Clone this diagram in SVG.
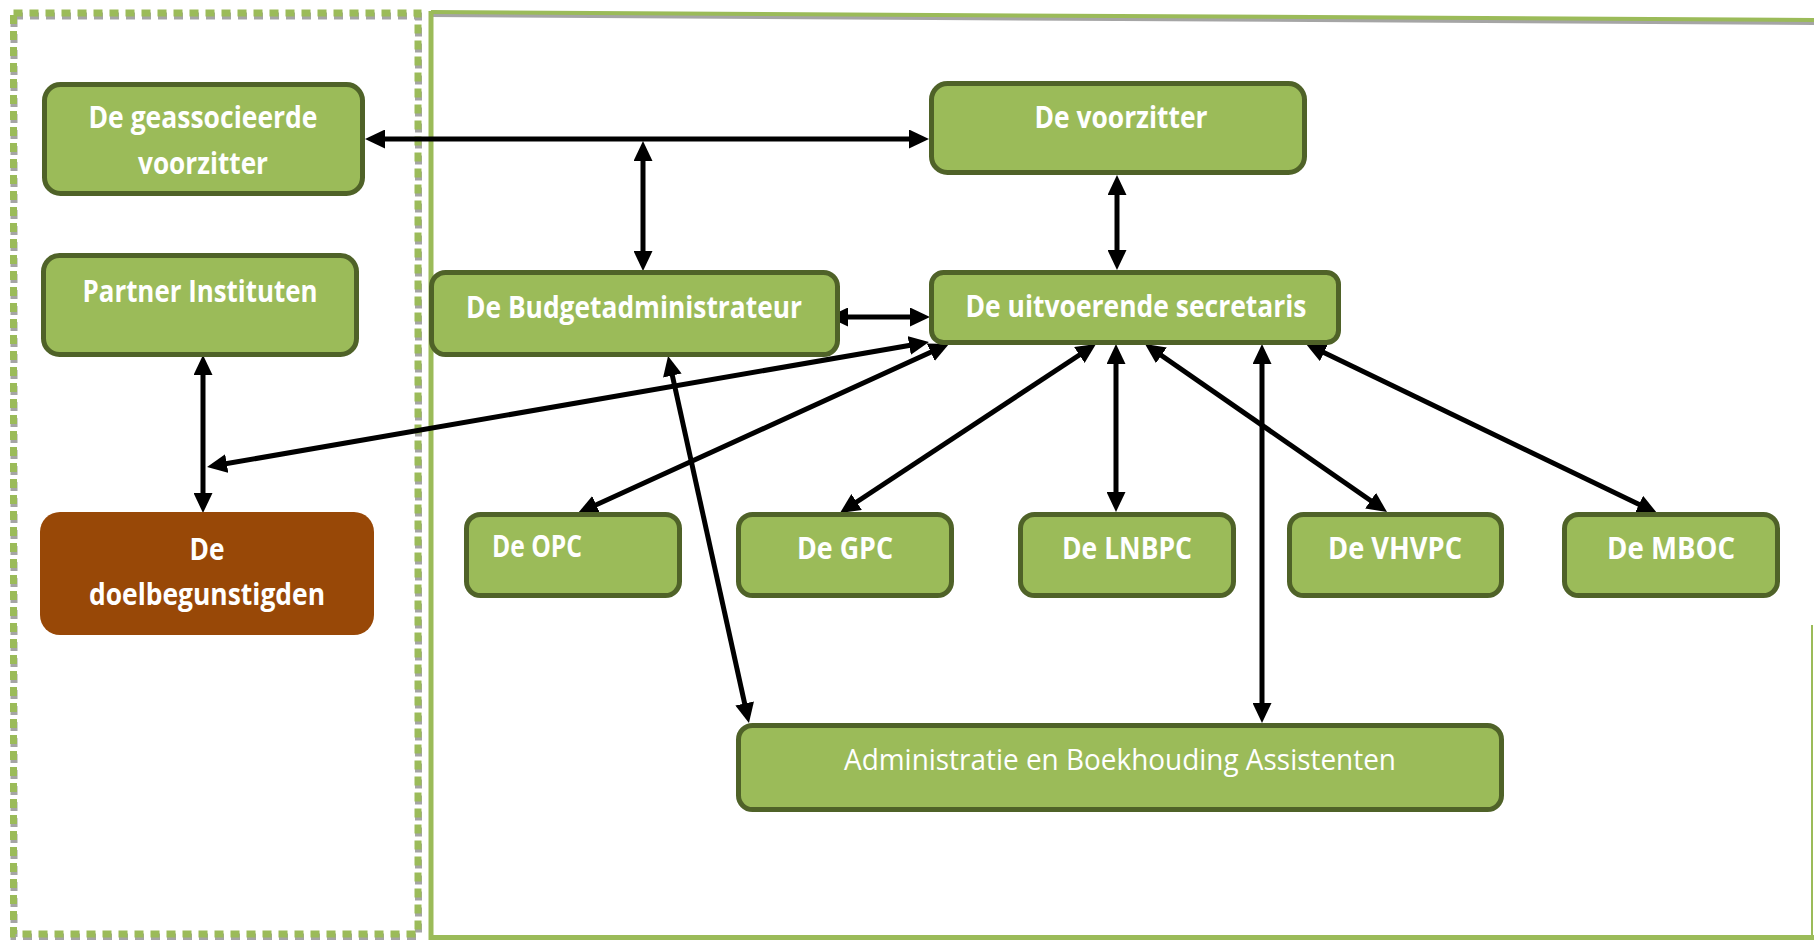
<svg xmlns="http://www.w3.org/2000/svg" width="1814" height="940" viewBox="0 0 1814 940">
<style>
.box{fill:#9bbb59;stroke:#4f6228;stroke-width:5}
.t{font-family:"Open Sans",Lato,"Liberation Sans",sans-serif;font-weight:bold;font-size:30px;fill:#ffffff;text-anchor:middle;font-variant-ligatures:none}
.tn{font-weight:normal}
.c{fill:none;stroke:#000;stroke-width:5}
</style>
<defs>
<marker id="ah" viewBox="0 0 20 19" refX="10" refY="9.5" markerWidth="20" markerHeight="19" markerUnits="userSpaceOnUse" orient="auto-start-reverse">
<path d="M0,0 L20,9.5 L0,19 Z" fill="#000"/>
</marker>
</defs>
<rect width="1814" height="940" fill="#ffffff"/>
<g id="frame-left">
<rect x="14" y="16" width="404.5" height="921" fill="none" stroke="#a5a5a5" stroke-width="7" stroke-dasharray="9 7"/>
<rect x="13.5" y="13" width="404.5" height="921" fill="none" stroke="#9bbb59" stroke-width="7" stroke-dasharray="9 7"/>
</g>
<g id="frame-right">
<line x1="431" y1="15" x2="1814" y2="23" stroke="#a5a5a5" stroke-width="4"/>
<line x1="431" y1="12" x2="1814" y2="20" stroke="#9bbb59" stroke-width="4"/>
<line x1="431" y1="11" x2="431" y2="940" stroke="#9bbb59" stroke-width="5"/>
<line x1="429" y1="937.5" x2="1814" y2="937.5" stroke="#9bbb59" stroke-width="5"/>
<line x1="1812" y1="625" x2="1812" y2="937" stroke="#9bbb59" stroke-width="2"/>
</g>
<g id="connectors">
<line class="c" x1="375" y1="139" x2="919" y2="139" marker-start="url(#ah)" marker-end="url(#ah)"/>
<line class="c" x1="643" y1="151" x2="643" y2="261" marker-start="url(#ah)" marker-end="url(#ah)"/>
<line class="c" x1="1117" y1="185" x2="1117" y2="260" marker-start="url(#ah)" marker-end="url(#ah)"/>
<line class="c" x1="838" y1="317" x2="920" y2="317" marker-start="url(#ah)" marker-end="url(#ah)"/>
<line class="c" x1="919.1" y1="343.7" x2="216.9" y2="465.3" marker-start="url(#ah)" marker-end="url(#ah)"/>
<line class="c" x1="203" y1="365" x2="203" y2="503" marker-start="url(#ah)" marker-end="url(#ah)"/>
<line class="c" x1="939.9" y1="348.1" x2="587.1" y2="508.9" marker-start="url(#ah)" marker-end="url(#ah)"/>
<line class="c" x1="1087.7" y1="349.5" x2="848.3" y2="507.5" marker-start="url(#ah)" marker-end="url(#ah)"/>
<line class="c" x1="1116" y1="354" x2="1116" y2="502" marker-start="url(#ah)" marker-end="url(#ah)"/>
<line class="c" x1="1153.2" y1="349.7" x2="1378.8" y2="506.3" marker-start="url(#ah)" marker-end="url(#ah)"/>
<line class="c" x1="1315" y1="348.3" x2="1648" y2="508.7" marker-start="url(#ah)" marker-end="url(#ah)"/>
<line class="c" x1="1262" y1="354" x2="1262" y2="713" marker-start="url(#ah)" marker-end="url(#ah)"/>
<line class="c" x1="670.2" y1="365.8" x2="746.8" y2="713.2" marker-start="url(#ah)" marker-end="url(#ah)"/>
</g>
<g id="geassocieerde">
<rect class="box" x="44.5" y="84.5" width="318" height="109" rx="16"/>
<text class="t" x="203" y="128" textLength="229" lengthAdjust="spacingAndGlyphs">De geassocieerde</text>
<text class="t" x="203" y="174" textLength="130" lengthAdjust="spacingAndGlyphs">voorzitter</text>
</g>
<g id="partner">
<rect class="box" x="43.5" y="255.5" width="313" height="99" rx="16"/>
<text class="t" x="200" y="302" textLength="235" lengthAdjust="spacingAndGlyphs">Partner Instituten</text>
</g>
<g id="doelbegunstigden">
<rect x="40" y="512" width="334" height="123" rx="20" fill="#984807"/>
<text class="t" x="207" y="560" textLength="35" lengthAdjust="spacingAndGlyphs">De</text>
<text class="t" x="207" y="605" textLength="236" lengthAdjust="spacingAndGlyphs">doelbegunstigden</text>
</g>
<g id="budget">
<rect class="box" x="431.5" y="272.5" width="406" height="82" rx="14"/>
<text class="t" x="634" y="318" textLength="336" lengthAdjust="spacingAndGlyphs">De Budgetadministrateur</text>
</g>
<g id="voorzitter">
<rect class="box" x="931.5" y="83.5" width="373" height="89" rx="16"/>
<text class="t" x="1121" y="128" textLength="173" lengthAdjust="spacingAndGlyphs">De voorzitter</text>
</g>
<g id="secretaris">
<rect class="box" x="931.5" y="272.5" width="407" height="70" rx="12"/>
<text class="t" x="1136" y="317" textLength="341" lengthAdjust="spacingAndGlyphs">De uitvoerende secretaris</text>
</g>
<g id="opc">
<rect class="box" x="466.5" y="514.5" width="213" height="81" rx="14"/>
<text class="t" x="492" y="557" textLength="90" lengthAdjust="spacingAndGlyphs" style="text-anchor:start">De OPC</text>
</g>
<g id="gpc">
<rect class="box" x="738.5" y="514.5" width="213" height="81" rx="14"/>
<text class="t" x="845" y="559" textLength="96" lengthAdjust="spacingAndGlyphs">De GPC</text>
</g>
<g id="lnbpc">
<rect class="box" x="1020.5" y="514.5" width="213" height="81" rx="14"/>
<text class="t" x="1127" y="559" textLength="130" lengthAdjust="spacingAndGlyphs">De LNBPC</text>
</g>
<g id="vhvpc">
<rect class="box" x="1289.5" y="514.5" width="212" height="81" rx="14"/>
<text class="t" x="1395" y="559" textLength="134" lengthAdjust="spacingAndGlyphs">De VHVPC</text>
</g>
<g id="mboc">
<rect class="box" x="1564.5" y="514.5" width="213" height="81" rx="14"/>
<text class="t" x="1671" y="559" textLength="128" lengthAdjust="spacingAndGlyphs">De MBOC</text>
</g>
<g id="administratie">
<rect class="box" x="738.5" y="725.5" width="763" height="84" rx="14"/>
<text class="t tn" x="1120" y="770" textLength="552" lengthAdjust="spacingAndGlyphs">Administratie en Boekhouding Assistenten</text>
</g>
</svg>
